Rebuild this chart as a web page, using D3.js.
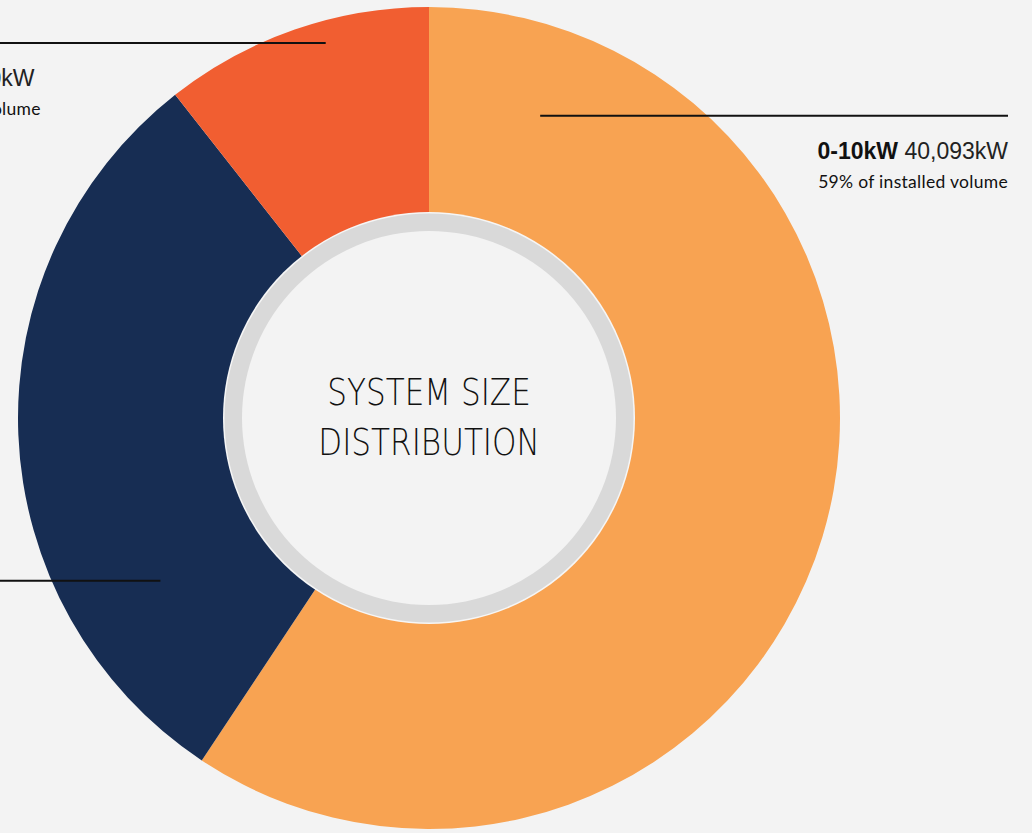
<!DOCTYPE html>
<html>
<head>
<meta charset="utf-8">
<script src="https://cdn.jsdelivr.net/npm/d3@7"></script>
<style>
  html, body { margin: 0; padding: 0; background: #f3f3f3; overflow: hidden; }
  svg { display: block; }
</style>
</head>
<body>
<div id="chart"></div>
<script>
// data
var categories = ["0-10kW", "10-100kW", "100kW+"];
var volumes = [40093, 20330, 7160];          // kW installed
var shares = ["59%", "30%", "11%"];
var colours = ["#f8a352", "#172d53", "#f15e31"];

// where each leader line leaves its slice (angle in degrees, radius in px)
// and where the label block starts on its side
var leaders = [
  {angle: 20.2, r: 322, side: "right", edge: 1008},
  {angle: 238.8, r: 314, side: "left", edge: -230},
  {angle: 344.6, r: 389, side: "left", edge: -149}
];

var width = 1032, height = 833;
var cx = 429, cy = 418;
var outerR = 411, holeR = 206;

var svg = d3.select("#chart")
  .append("svg")
  .attr("width", width)
  .attr("height", height);

var g = svg.append("g")
  .attr("transform", "translate(" + cx + "," + cy + ")");

var pie = d3.pie().sort(null).value(function(d) { return d; });
var arc = d3.arc().innerRadius(holeR - 4).outerRadius(outerR);

var arcs = pie(volumes);

g.selectAll("path.slice")
  .data(arcs)
  .enter()
  .append("path")
  .attr("class", "slice")
  .attr("d", arc)
  .attr("fill", function(d, i) { return colours[i]; });

// centre hole: thin light edge, grey ring, then plain disc
g.append("circle").attr("r", holeR).attr("fill", "#f6f6f6");
g.append("circle").attr("r", holeR - 1.5).attr("fill", "#d9d9d9");
g.append("circle").attr("r", holeR - 19).attr("fill", "#f3f3f3");

var title = g.append("text")
  .attr("text-anchor", "middle")
  .attr("fill", "#111")
  .attr("transform", "scale(0.84,1)")
  .style("font-family", "'DejaVu Sans', sans-serif")
  .style("font-weight", "200")
  .style("font-size", "37px");
title.append("tspan").attr("x", 0).attr("y", -13).text("SYSTEM SIZE");
title.append("tspan").attr("x", 0).attr("y", 37).text("DISTRIBUTION");

// labels with leader lines
var labelFont = "'Liberation Sans', Arial, sans-serif";
var fmt = d3.format(",");

arcs.forEach(function(a, i) {
  var L = leaders[i];
  var p = d3.pointRadial(L.angle * Math.PI / 180, L.r);
  var px = cx + p[0], py = cy + p[1];
  var right = L.side == "right";
  var x1 = right ? px : L.edge, x2 = right ? L.edge : px;

  svg.append("line")
    .attr("x1", x1).attr("x2", x2)
    .attr("y1", py).attr("y2", py)
    .attr("stroke", "#111")
    .attr("stroke-width", 2);

  var anchor = right ? "end" : "start";

  var t1 = svg.append("text")
    .attr("x", L.edge).attr("y", py + 43)
    .attr("text-anchor", anchor)
    .attr("fill", "#111")
    .style("font-family", labelFont)
    .style("font-size", "23px");
  t1.append("tspan").attr("font-weight", "bold").text(categories[i]);
  t1.append("tspan").attr("font-weight", "normal").attr("fill", "#222").text(" " + fmt(volumes[i]) + "kW");

  svg.append("text")
    .attr("x", L.edge).attr("y", py + 72)
    .attr("text-anchor", anchor)
    .attr("fill", "#111")
    .style("font-family", "Lato, sans-serif")
    .style("font-size", "17.5px")
    .style("letter-spacing", "0.3px")
    .text(shares[i] + " of installed volume");
});
</script>
</body>
</html>
